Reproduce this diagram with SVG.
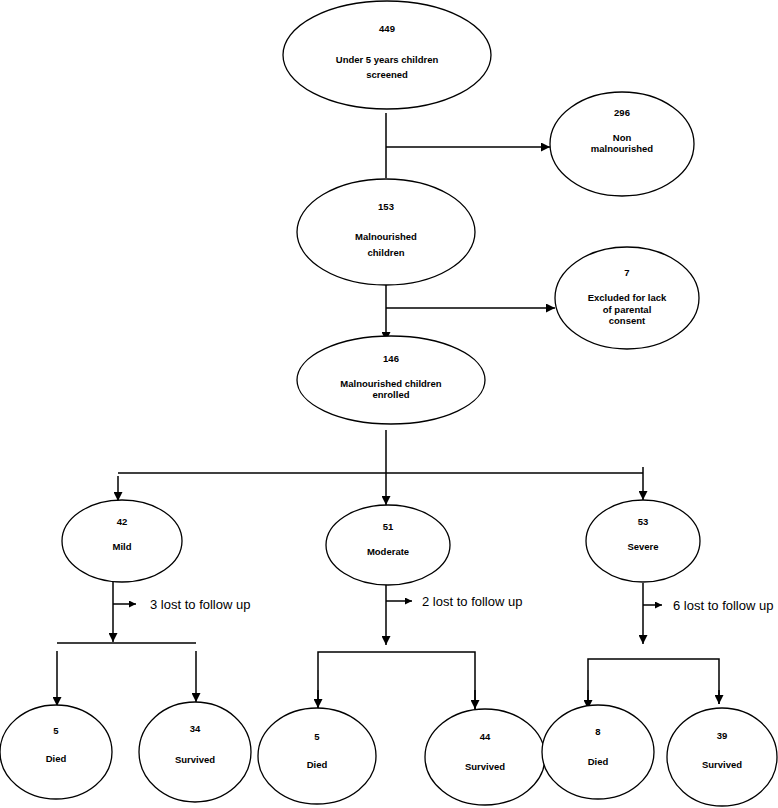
<svg xmlns="http://www.w3.org/2000/svg" width="778" height="808" viewBox="0 0 778 808">
<style>
.n ellipse{fill:#fff;stroke:#000;stroke-width:1.3}
.n text{font-family:"Liberation Sans",Arial,sans-serif;font-weight:bold;font-size:9.5px;text-anchor:middle;fill:#000}
.c line,.c path{stroke:#000;stroke-width:1.5;fill:none}
.lbl{font-family:"Liberation Sans",Arial,sans-serif;font-size:13px;fill:#000}
</style>
<defs>
<marker id="ah" viewBox="0 0 10 10" refX="10" refY="5" markerWidth="7" markerHeight="7" markerUnits="userSpaceOnUse" orient="auto"><path d="M0,0 L10,5 L0,10 Z" fill="#000"/></marker>
<marker id="ahb" viewBox="0 0 10 10" refX="10" refY="5" markerWidth="9" markerHeight="9" markerUnits="userSpaceOnUse" orient="auto"><path d="M0,0 L10,5 L0,10 Z" fill="#000"/></marker>
</defs>
<g class="c" id="connectors">
<line x1="386" y1="113" x2="386" y2="178"/>
<line x1="386" y1="147" x2="550" y2="147" marker-end="url(#ahb)"/>
<line x1="386" y1="282" x2="386" y2="341" marker-end="url(#ahb)"/>
<line x1="386" y1="308" x2="555" y2="308" marker-end="url(#ahb)"/>
<line x1="386" y1="430" x2="386" y2="505" marker-end="url(#ahb)"/>
<line x1="118" y1="473" x2="643" y2="473"/>
<line x1="118" y1="476" x2="118" y2="501" marker-end="url(#ahb)"/>
<line x1="643" y1="467" x2="643" y2="500" marker-end="url(#ahb)"/>
<line x1="113" y1="582" x2="113" y2="642" marker-end="url(#ahb)"/>
<line x1="113" y1="604" x2="136" y2="604" marker-end="url(#ah)"/>
<line x1="57" y1="643" x2="196" y2="643"/>
<line x1="57" y1="651" x2="57" y2="706" marker-end="url(#ahb)"/>
<line x1="196" y1="651" x2="196" y2="702" marker-end="url(#ahb)"/>
<line x1="386" y1="585" x2="386" y2="645" marker-end="url(#ahb)"/>
<line x1="386" y1="601" x2="412" y2="601" marker-end="url(#ah)"/>
<path d="M318,708 V652 H475 V709"/>
<line x1="318" y1="690" x2="318" y2="708" marker-end="url(#ahb)"/>
<line x1="475" y1="690" x2="475" y2="709" marker-end="url(#ahb)"/>
<line x1="643" y1="583" x2="643" y2="644" marker-end="url(#ahb)"/>
<line x1="643" y1="605" x2="662" y2="605" marker-end="url(#ah)"/>
<path d="M588,709 V659 H719 V704"/>
<line x1="588" y1="690" x2="588" y2="709" marker-end="url(#ahb)"/>
<line x1="719" y1="690" x2="719" y2="704" marker-end="url(#ahb)"/>
</g>
<text class="lbl" x="150" y="609">3 lost to follow up</text>
<text class="lbl" x="422" y="606">2 lost to follow up</text>
<text class="lbl" x="673" y="610">6 lost to follow up</text>
<g class="n" id="n449"><ellipse cx="387" cy="55" rx="104" ry="54"/><text x="387" y="32">449</text><text x="387" y="63">Under 5 years children</text><text x="387" y="78">screened</text></g>
<g class="n" id="n296"><ellipse cx="622" cy="144" rx="72" ry="52"/><text x="622" y="116">296</text><text x="622" y="141">Non</text><text x="622" y="152">malnourished</text></g>
<g class="n" id="n153"><ellipse cx="386" cy="232" rx="89" ry="53"/><text x="386" y="210">153</text><text x="386" y="240">Malnourished</text><text x="386" y="256">children</text></g>
<g class="n" id="n7"><ellipse cx="627" cy="298" rx="72" ry="51"/><text x="627" y="276">7</text><text x="627" y="301">Excluded for lack</text><text x="627" y="313">of parental</text><text x="627" y="324">consent</text></g>
<g class="n" id="n146"><ellipse cx="391" cy="380" rx="94" ry="44"/><text x="391" y="362">146</text><text x="391" y="387">Malnourished children</text><text x="391" y="398">enrolled</text></g>
<g class="n" id="mild"><ellipse cx="122" cy="541" rx="60" ry="41"/><text x="122" y="525">42</text><text x="122" y="550">Mild</text></g>
<g class="n" id="moderate"><ellipse cx="388" cy="545" rx="62" ry="40"/><text x="388" y="530">51</text><text x="388" y="555">Moderate</text></g>
<g class="n" id="severe"><ellipse cx="643" cy="541" rx="57" ry="41"/><text x="643" y="525">53</text><text x="643" y="550">Severe</text></g>
<g class="n" id="mild-died"><ellipse cx="56" cy="752" rx="56" ry="47"/><text x="56" y="734">5</text><text x="56" y="762">Died</text></g>
<g class="n" id="mild-survived"><ellipse cx="195" cy="752" rx="56" ry="50"/><text x="195" y="732">34</text><text x="195" y="763">Survived</text></g>
<g class="n" id="mod-died"><ellipse cx="317" cy="756" rx="59" ry="48"/><text x="317" y="740">5</text><text x="317" y="768">Died</text></g>
<g class="n" id="mod-survived"><ellipse cx="485" cy="757" rx="60" ry="48"/><text x="485" y="740">44</text><text x="485" y="770">Survived</text></g>
<g class="n" id="sev-died"><ellipse cx="598" cy="752" rx="56" ry="47"/><text x="598" y="735">8</text><text x="598" y="765">Died</text></g>
<g class="n" id="sev-survived"><ellipse cx="722" cy="757" rx="55" ry="49"/><text x="722" y="739">39</text><text x="722" y="768">Survived</text></g>
</svg>
